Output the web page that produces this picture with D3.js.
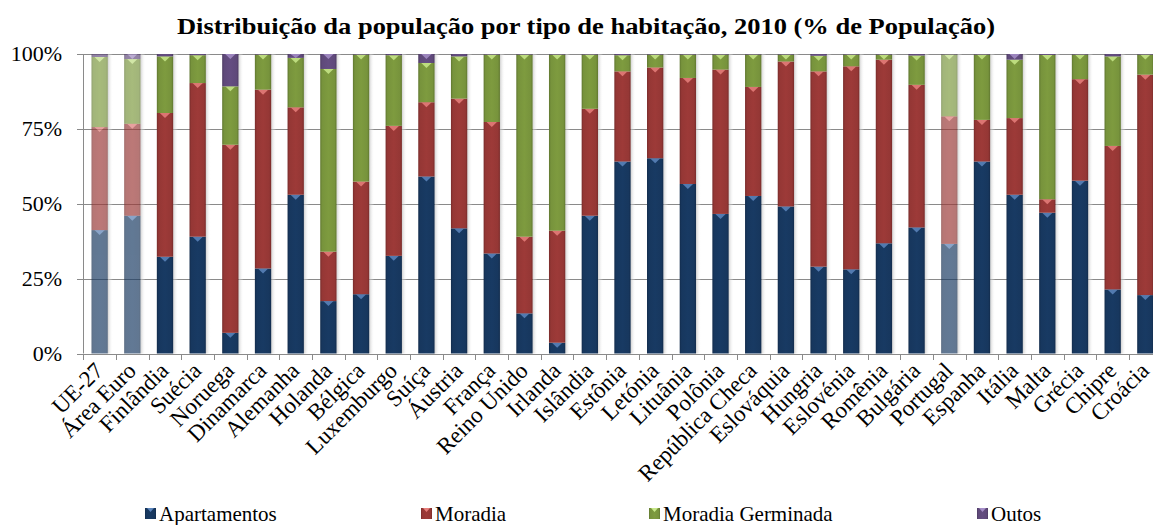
<!DOCTYPE html>
<html>
<head>
<meta charset="utf-8">
<script src="https://cdn.jsdelivr.net/npm/d3@7"></script>
<style>
	body { margin: 0; background: #fff; }
	svg { display: block; }
	text { font-family: "Liberation Serif", "Times New Roman", serif; fill: #000; }
	.ylab { font-size: 22px; text-anchor: end; }
	.xlab { font-size: 23px; text-anchor: end; }
	.leg { font-size: 21px; }
</style>
</head>
<body>
<svg id="chart" width="1153" height="525"></svg>
<script>
//
// data (percent of population)
//
var categories = ["UE-27", "Área Euro", "Finlândia", "Suécia", "Noruega", "Dinamarca", "Alemanha",
	"Holanda", "Bélgica", "Luxemburgo", "Suíça", "Áustria", "França", "Reino Unido", "Irlanda",
	"Islândia", "Estônia", "Letónia", "Lituânia", "Polônia", "República Checa", "Eslováquia",
	"Hungria", "Eslovénia", "Romênia", "Bulgária", "Portugal", "Espanha", "Itália", "Malta",
	"Grécia", "Chipre", "Croácia"];

var apartamentos = [41.2, 46.0, 32.3, 39.0, 6.9, 28.4, 53.0, 17.5, 19.8, 32.6, 59.1, 41.8, 33.4, 13.4, 3.6,
	46.0, 64.1, 65.2, 56.6, 46.6, 52.6, 49.1, 29.0, 28.1, 36.8, 42.1, 36.6, 64.1, 53.0, 47.0, 57.7, 21.4, 19.5];
var moradia = [34.4, 30.7, 48.0, 51.3, 62.8, 59.7, 29.2, 16.5, 37.6, 43.4, 24.8, 43.3, 43.9, 25.6, 37.4,
	35.7, 30.1, 30.3, 35.4, 48.2, 36.4, 48.4, 65.2, 67.8, 61.3, 47.6, 42.6, 13.9, 25.6, 4.5, 33.9, 47.9, 73.6];
var germinada = [23.4, 21.6, 18.9, 9.3, 19.5, 11.7, 16.5, 61.0, 42.4, 23.6, 13.1, 14.1, 22.5, 60.8, 58.8,
	18.1, 5.4, 4.3, 7.8, 5.0, 10.8, 2.3, 5.2, 3.9, 1.7, 9.8, 20.6, 21.8, 19.5, 48.2, 8.2, 29.9, 6.7];
var outros = [1.0, 1.7, 0.8, 0.4, 10.8, 0.2, 1.3, 5.0, 0.2, 0.4, 3.0, 0.8, 0.2, 0.2, 0.2,
	0.2, 0.4, 0.2, 0.2, 0.2, 0.2, 0.2, 0.6, 0.2, 0.2, 0.5, 0.2, 0.2, 1.9, 0.3, 0.2, 0.8, 0.2];

var seriesNames = ["Apartamentos", "Moradia", "Moradia Germinada", "Outos"];
var yTicks = [0, 25, 50, 75, 100];
var faded = ["UE-27", "Área Euro", "Portugal"];   // drawn lighter in the original

var title = "Distribuição da população por tipo de habitação, 2010 (% de População)";

//
//
//
var colors = ["#17375e", "#953735", "#77933c", "#5f497a"];
var lights = ["#5d86bd", "#e8807d", "#c8e88a", "#a68fc8"];

var svg = d3.select("#chart");
var defs = svg.append("defs");

var rows = categories.map(function(c, i) {
	return { cat: c, s0: apartamentos[i], s1: moradia[i], s2: germinada[i], s3: outros[i] };
});

var stack = d3.stack().keys(["s0", "s1", "s2", "s3"]);
var layers = stack(rows);

// the plot runs a little past the right edge of the picture (cropped, like the original)
var x = d3.scaleBand()
	.domain(categories)
	.range([83.3, 1161.7])
	.paddingInner(0.5)
	.paddingOuter(0.25);

var y = d3.scaleLinear()
	.domain([0, 100])
	.range([353.5, 54]);

// gradients to imitate the bevelled bars
colors.forEach(function(c, k) {
	var g = defs.append("linearGradient")
		.attr("id", "grad" + k)
		.attr("x1", "0").attr("x2", "1").attr("y1", "0").attr("y2", "0");
	var base = d3.color(c);
	g.append("stop").attr("offset", "0%").attr("stop-color", base.darker(0.6));
	g.append("stop").attr("offset", "12%").attr("stop-color", base);
	g.append("stop").attr("offset", "50%").attr("stop-color", base.brighter(0.15));
	g.append("stop").attr("offset", "88%").attr("stop-color", base);
	g.append("stop").attr("offset", "100%").attr("stop-color", base.darker(0.6));
});

var shade = defs.append("linearGradient")
	.attr("id", "shadow")
	.attr("x1", "0").attr("x2", "1").attr("y1", "0").attr("y2", "0");
shade.append("stop").attr("offset", "0%").attr("stop-color", "#bdbdbd");
shade.append("stop").attr("offset", "100%").attr("stop-color", "#ffffff").attr("stop-opacity", 0);

// title
svg.append("text")
	.attr("x", 586)
	.attr("y", 34)
	.attr("text-anchor", "middle")
	.attr("font-weight", "bold")
	.attr("font-size", "23px")
	.attr("textLength", 818)
	.attr("lengthAdjust", "spacingAndGlyphs")
	.text(title);

// grid lines
svg.append("g").selectAll("line")
	.data(yTicks)
	.enter()
	.append("line")
		.attr("x1", 77)
		.attr("x2", 1162)
		.attr("y1", d => Math.round(y(d)) + 0.5)
		.attr("y2", d => Math.round(y(d)) + 0.5)
		.attr("stroke", "#8a8a8a");

svg.selectAll(".ylab")
	.data(yTicks)
	.enter()
	.append("text")
		.attr("class", "ylab")
		.attr("x", 62)
		.attr("y", d => y(d) + 7)
		.text(d => d + "%");

// shadows to the right of each bar
svg.append("g").selectAll("rect")
	.data(categories)
	.enter()
	.append("rect")
		.attr("x", d => x(d) + x.bandwidth())
		.attr("y", y(100))
		.attr("width", 5)
		.attr("height", y(0) - y(100))
		.attr("fill", "url(#shadow)")
		.attr("opacity", 0.7);

// stacked bars
var gLayers = svg.append("g").selectAll("g")
	.data(layers)
	.enter()
	.append("g");

var seg = gLayers.selectAll("g")
	.data(function(d, k) { return d.map(function(p) { return { k: k, p: p }; }); })
	.enter()
	.append("g")
		.attr("opacity", d => faded.indexOf(d.p.data.cat) >= 0 ? 0.68 : 1);

seg.append("rect")
	.attr("x", d => x(d.p.data.cat))
	.attr("y", d => y(d.p[1]))
	.attr("width", x.bandwidth())
	.attr("height", d => Math.max(0, y(d.p[0]) - y(d.p[1])))
	.attr("fill", d => "url(#grad" + d.k + ")");

seg.filter(d => y(d.p[0]) - y(d.p[1]) > 3)
	.append("path")
	.attr("d", function(d) {
		var x0 = x(d.p.data.cat), w = x.bandwidth(), t = y(d.p[1]);
		var h = Math.min(5, y(d.p[0]) - t);
		return "M" + (x0 + 3) + "," + t + "L" + (x0 + w - 3) + "," + t + "L" + (x0 + w / 2) + "," + (t + h) + "Z";
	})
	.attr("fill", d => lights[d.k])
	.attr("opacity", 0.85);

// axes
svg.append("line")
	.attr("x1", 83.5).attr("x2", 83.5)
	.attr("y1", y(100)).attr("y2", y(0))
	.attr("stroke", "#8a8a8a");

var step = x.step();
var tickPos = d3.range(categories.length + 1).map(i => x.range()[0] + i * step);
svg.append("g").selectAll("line")
	.data(tickPos)
	.enter()
	.append("line")
		.attr("x1", d => Math.round(d) + 0.5)
		.attr("x2", d => Math.round(d) + 0.5)
		.attr("y1", Math.round(y(0)))
		.attr("y2", Math.round(y(0)) + 6)
		.attr("stroke", "#8a8a8a");

svg.selectAll(".xlab")
	.data(categories)
	.enter()
	.append("text")
		.attr("class", "xlab")
		.attr("transform", d => "translate(" + (x(d) + x.bandwidth() / 2 + 5) + "," + 372 + ") rotate(-45)")
		.text(d => d);

// legend
var legX = [145, 421, 649, 977];
var leg = svg.append("g").selectAll("g")
	.data(seriesNames)
	.enter()
	.append("g")
		.attr("transform", (d, i) => "translate(" + legX[i] + ",508)");

leg.append("rect")
	.attr("width", 11)
	.attr("height", 11)
	.attr("fill", (d, i) => "url(#grad" + i + ")");
leg.append("path")
	.attr("d", "M2,0L9,0L5.5,4Z")
	.attr("fill", (d, i) => lights[i]);
leg.append("text")
	.attr("class", "leg")
	.attr("x", 14)
	.attr("y", 12.5)
	.text(d => d);
</script>
</body>
</html>
